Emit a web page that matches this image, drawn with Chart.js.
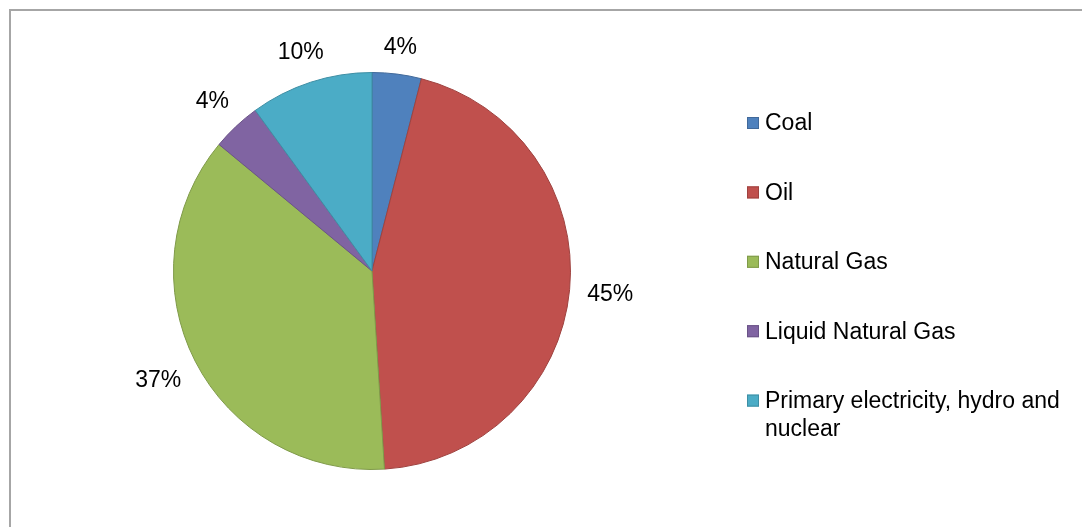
<!DOCTYPE html>
<html>
<head>
<meta charset="utf-8">
<script src="https://cdn.jsdelivr.net/npm/chart.js@4/dist/chart.umd.min.js"></script>
<style>
  html, body { margin: 0; padding: 0; background: #fff; }
  #wrap { position: relative; width: 1082px; height: 527px; }
</style>
</head>
<body>
<div id="wrap"><canvas id="energy-chart"></canvas></div>
<script>
// ==================== Data ====================
const categories = ["Coal", "Oil", "Natural Gas", "Liquid Natural Gas", "Primary electricity, hydro and nuclear"];
const shares = [4, 45, 37, 4, 10];
const fillColors = ["#4f81bd", "#c0504d", "#9bbb59", "#8064a2", "#4bacc6"];
const edgeColors = ["#41699a", "#9e423f", "#7f9a49", "#6a5387", "#3e8ea4"];

const FONT = '23px "Liberation Sans", Arial, sans-serif';

// ==================== Plugins ====================
// gray frame of the chart object (cut at right and bottom)
const framePlugin = {
  id: "frame",
  beforeDraw(chart) {
    const ctx = chart.ctx;
    ctx.save();
    ctx.strokeStyle = "#a6a6a6";
    ctx.lineWidth = 2;
    ctx.beginPath();
    ctx.moveTo(10, chart.height);
    ctx.lineTo(10, 10);
    ctx.lineTo(chart.width, 10);
    ctx.stroke();
    ctx.restore();
  }
};

// percentage labels outside each slice
const outsideLabels = {
  id: "outsideLabels",
  afterDatasetsDraw(chart) {
    const ctx = chart.ctx;
    const meta = chart.getDatasetMeta(0);
    const total = shares.reduce((a, b) => a + b, 0);
    ctx.save();
    ctx.font = FONT;
    ctx.fillStyle = "#000";
    ctx.textAlign = "center";
    ctx.textBaseline = "middle";
    meta.data.forEach((arc, i) => {
      const p = arc.getProps(["x", "y", "startAngle", "endAngle", "outerRadius"], true);
      const mid = (p.startAngle + p.endAngle) / 2;
      const txt = Math.round(shares[i] / total * 100) + "%";
      const w = ctx.measureText(txt).width;
      const c = Math.cos(mid), s = Math.sin(mid);
      const r = p.outerRadius + 17 + Math.abs(c) * w / 2 + Math.abs(s) * 8.5;
      ctx.fillText(txt, p.x + c * r, p.y + s * r + 1);
    });
    ctx.restore();
  }
};

// legend on the right, drawn like the office one
const sideLegend = {
  id: "sideLegend",
  afterDraw(chart) {
    const ctx = chart.ctx;
    const ds = chart.data.datasets[0];
    const boxX = 747, textX = 765, firstY = 123, step = 69.4, lineH = 28, maxW = 305;
    ctx.save();
    ctx.font = FONT;
    ctx.textBaseline = "middle";
    chart.data.labels.forEach((label, i) => {
      const y = firstY + i * step;
      ctx.fillStyle = ds.backgroundColor[i];
      ctx.strokeStyle = ds.borderColor[i];
      ctx.lineWidth = 1;
      ctx.fillRect(boxX, y - 6, 12, 12);
      ctx.strokeRect(boxX + 0.5, y - 5.5, 11, 11);
      // wrap words
      const words = label.split(" ");
      const lines = [];
      let line = "";
      words.forEach(wd => {
        const test = line ? line + " " + wd : wd;
        if (ctx.measureText(test).width > maxW && line) {
          lines.push(line);
          line = wd;
        } else {
          line = test;
        }
      });
      lines.push(line);
      ctx.fillStyle = "#000";
      lines.forEach((ln, k) => ctx.fillText(ln, textX, y + 1 + k * lineH));
    });
    ctx.restore();
  }
};

// ==================== Chart ====================
const ctx = document.getElementById("energy-chart").getContext("2d");
const energyChart = new Chart(ctx, {
  type: "pie",
  data: {
    labels: categories,
    datasets: [{
      data: shares,
      backgroundColor: fillColors,
      borderColor: edgeColors,
      borderWidth: 1,
      hoverOffset: 0
    }]
  },
  options: {
    responsive: true,
    maintainAspectRatio: false,
    animation: false,
    events: [],
    layout: {
      padding: { left: 173, right: 511, top: 72, bottom: 57 }
    },
    plugins: {
      legend: { display: false },
      tooltip: { enabled: false }
    }
  },
  plugins: [framePlugin, outsideLabels, sideLegend]
});
</script>
</body>
</html>
